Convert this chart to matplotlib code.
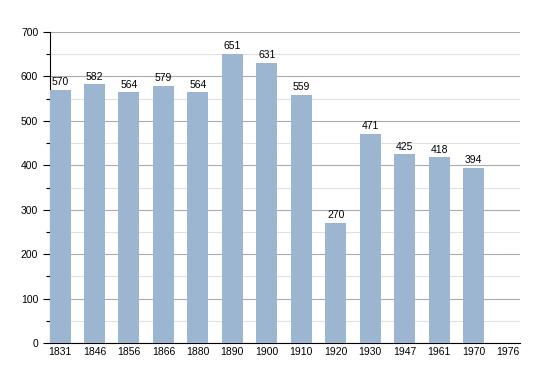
import matplotlib
matplotlib.use("Agg")
import matplotlib.pyplot as plt
from matplotlib.ticker import MultipleLocator
import numpy as np

plt.rcParams['font.family'] = ['Liberation Sans', 'DejaVu Sans']

years = ["1831", "1846", "1856", "1866", "1880", "1890", "1900",
         "1910", "1920", "1930", "1947", "1961", "1970", "1976"]
population = [570, 582, 564, 579, 564, 651, 631, 559, 270, 471, 425, 418, 394, 0]

bar_color = "#9cb6d1"

fig = plt.figure(figsize=(5.5, 3.73), dpi=100)
ax = fig.add_axes([50 / 550, 30 / 373, 470 / 550, 311 / 373])

x = np.arange(len(years))
ax.bar(x, population, width=0.61, color=bar_color, zorder=3)

for xi, v in zip(x, population):
    if v > 0:
        ax.text(xi, v + 6, str(v), ha="center", va="bottom", fontsize=7.5, zorder=4)

ax.set_xlim(-0.29, 13.35)
ax.set_ylim(0, 700)
ax.set_xticks(x)
ax.set_xticklabels(years, fontsize=7.5)
ax.tick_params(axis="x", length=0, pad=3)
ax.yaxis.set_major_locator(MultipleLocator(100))
ax.yaxis.set_minor_locator(MultipleLocator(50))
ax.tick_params(axis="y", which="major", length=5, labelsize=7.5, width=0.8)
ax.tick_params(axis="y", which="minor", length=3, width=0.8)

ax.grid(axis="y", which="major", color="#aaaaaa", linewidth=0.8, zorder=0)
ax.grid(axis="y", which="minor", color="#e0e0e0", linewidth=0.8, zorder=0)

for side in ["top", "right"]:
    ax.spines[side].set_visible(False)
ax.spines["left"].set_color("black")
ax.spines["bottom"].set_color("black")

fig.savefig("out.png", dpi=100)
